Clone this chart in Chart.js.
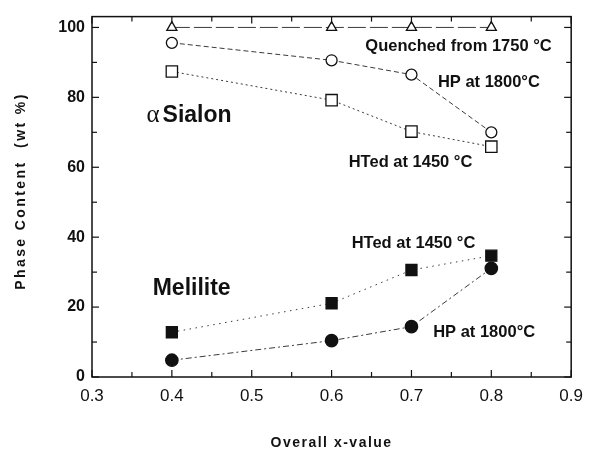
<!DOCTYPE html>
<html>
<head>
<meta charset="utf-8">
<script src="https://cdn.jsdelivr.net/npm/chart.js@4.4.1/dist/chart.umd.min.js"></script>
<style>
  html, body { margin: 0; padding: 0; background: #fff; }
</style>
</head>
<body>
<canvas id="phaseChart" width="592" height="451"></canvas>
<script>
// --- 1. DATA ---
const xValues = [0.4, 0.6, 0.7, 0.8];
const quenchedSialon = [100, 100, 100, 100];
const hpSialon = [95.6, 90.6, 86.5, 70.0];
const htSialon = [87.4, 79.2, 70.2, 65.9];
const htMelilite = [12.8, 21.1, 30.6, 34.7];
const hpMelilite = [4.8, 10.4, 14.4, 31.1];
const xTickLabels = ['0.3', '0.4', '0.5', '0.6', '0.7', '0.8', '0.9'];
const yTickLabels = ['0', '20', '40', '60', '80', '100'];

const INK = '#111';
const LINE = '#3a3a3a';

const toPoints = (ys) => xValues.map((x, i) => ({ x: x, y: ys[i] }));
const isTenth = (v) => Math.abs(v * 10 - Math.round(v * 10)) < 1e-6;
const xLabel = (v) => isTenth(v) && xTickLabels.includes(v.toFixed(1)) ? v.toFixed(1) : '';
const yLabel = (v) => yTickLabels.includes(String(Math.round(v))) && Math.abs(v - Math.round(v)) < 1e-6 ? String(Math.round(v)) : '';

// --- 2. FRAME + INWARD TICKS ---
const frameAndTicks = {
    id: 'frameAndTicks',
    afterDraw(chart) {
        const { ctx, chartArea: a, scales: { x, y } } = chart;
        const seg = (x1, y1, x2, y2) => { ctx.beginPath(); ctx.moveTo(x1, y1); ctx.lineTo(x2, y2); ctx.stroke(); };
        ctx.save();
        ctx.strokeStyle = INK;
        ctx.lineWidth = 1.2;
        x.ticks.forEach(t => {
            const px = x.getPixelForValue(t.value);
            const len = xLabel(t.value) ? 7 : 5;
            seg(px, a.bottom, px, a.bottom - len);
            seg(px, a.top, px, a.top + len);
        });
        y.ticks.forEach(t => {
            const py = y.getPixelForValue(t.value);
            const len = yLabel(t.value) ? 7 : 5;
            seg(a.left, py, a.left + len, py);
            seg(a.right, py, a.right - len, py);
        });
        ctx.lineWidth = 1.5;
        ctx.strokeRect(a.left, a.top, a.right - a.left, a.bottom - a.top);
        ctx.restore();
    }
};

// --- 3. TEXT LABELS + AXIS TITLES ---
const notes = [
    { text: 'Quenched from 1750 °C', x: 0.6423, y: 93.2, size: 16.5 },
    { text: 'HP at 1800°C', x: 0.7331, y: 82.9, size: 16.5 },
    { text: 'HTed at 1450 °C', x: 0.6214, y: 60.0, size: 16.5 },
    { text: 'HTed at 1450 °C', x: 0.6251, y: 36.9, size: 16.5 },
    { text: 'HP at 1800°C', x: 0.7272, y: 11.3, size: 16.5 },
    { text: 'Sialon', x: 0.3884, y: 72.9, size: 23 },
    { text: 'Melilite', x: 0.3760, y: 23.4, size: 23 }
];

const labelsPlugin = {
    id: 'labelsPlugin',
    afterDraw(chart) {
        const { ctx, chartArea: a, scales: { x, y } } = chart;
        ctx.save();
        ctx.fillStyle = INK;
        ctx.textAlign = 'left';
        ctx.textBaseline = 'alphabetic';
        notes.forEach(n => {
            ctx.font = `bold ${n.size}px "Liberation Sans", Arial, sans-serif`;
            ctx.fillText(n.text, x.getPixelForValue(n.x), y.getPixelForValue(n.y));
        });
        // greek alpha in a serif face
        ctx.font = '25px "Liberation Serif", "DejaVu Serif", serif';
        ctx.fillText('α', x.getPixelForValue(0.3683), y.getPixelForValue(72.9));

        // axis titles
        ctx.font = 'bold 14px "Liberation Sans", Arial, sans-serif';
        ctx.textAlign = 'center';
        ctx.textBaseline = 'middle';
        ctx.letterSpacing = '1.5px';
        ctx.fillText('Overall x-value', (a.left + a.right) / 2, 443);
        ctx.save();
        ctx.translate(21.5, 191);
        ctx.rotate(-Math.PI / 2);
        ctx.letterSpacing = '2.4px';
        ctx.fillText('Phase Content  (wt %)', 0, 0);
        ctx.restore();
        ctx.restore();
    }
};

// --- 4. CHART ---
const series = (data, style, filled, radius, dash) => ({
    data: toPoints(data),
    borderColor: LINE,
    borderWidth: 1,
    borderDash: dash,
    pointStyle: style,
    pointRadius: radius,
    pointBorderWidth: 1.3,
    pointBorderColor: INK,
    pointBackgroundColor: filled ? INK : '#fff',
    tension: 0,
    fill: false
});

new Chart(document.getElementById('phaseChart'), {
    type: 'line',
    data: {
        datasets: [
            series(quenchedSialon, 'triangle', false, 5.8, [18, 4]),
            series(hpSialon, 'circle', false, 5.5, [5, 3]),
            series(htSialon, 'rect', false, 8, [2, 3]),
            series(htMelilite, 'rect', true, 7.8, [1.5, 4.5]),
            series(hpMelilite, 'circle', true, 6.2, [6, 3, 2, 3])
        ]
    },
    options: {
        responsive: false,
        animation: false,
        layout: { padding: { left: 0, top: 16, right: 15, bottom: 0 } },
        plugins: { legend: { display: false }, tooltip: { enabled: false } },
        scales: {
            x: {
                type: 'linear',
                min: 0.3,
                max: 0.9,
                grid: { display: false, drawTicks: false },
                border: { display: false },
                ticks: {
                    stepSize: 0.05,
                    autoSkip: false,
                    maxRotation: 0,
                    padding: 9,
                    color: INK,
                    font: { family: '"Liberation Sans", Arial, sans-serif', size: 17 },
                    callback: (v) => xLabel(v)
                },
                afterFit: (s) => { s.height = 74; }
            },
            y: {
                min: 0,
                max: 103.1,
                grid: { display: false, drawTicks: false },
                border: { display: false },
                ticks: {
                    stepSize: 10,
                    includeBounds: false,
                    autoSkip: false,
                    padding: 7,
                    color: INK,
                    font: { family: '"Liberation Sans", Arial, sans-serif', size: 16, weight: 'bold' },
                    callback: (v) => yLabel(v)
                },
                afterBuildTicks: (s) => { s.ticks = s.ticks.filter(t => Math.abs(t.value / 10 - Math.round(t.value / 10)) < 1e-6); },
                afterFit: (s) => { s.width = 92; }
            }
        }
    },
    plugins: [frameAndTicks, labelsPlugin]
});
</script>
</body>
</html>
